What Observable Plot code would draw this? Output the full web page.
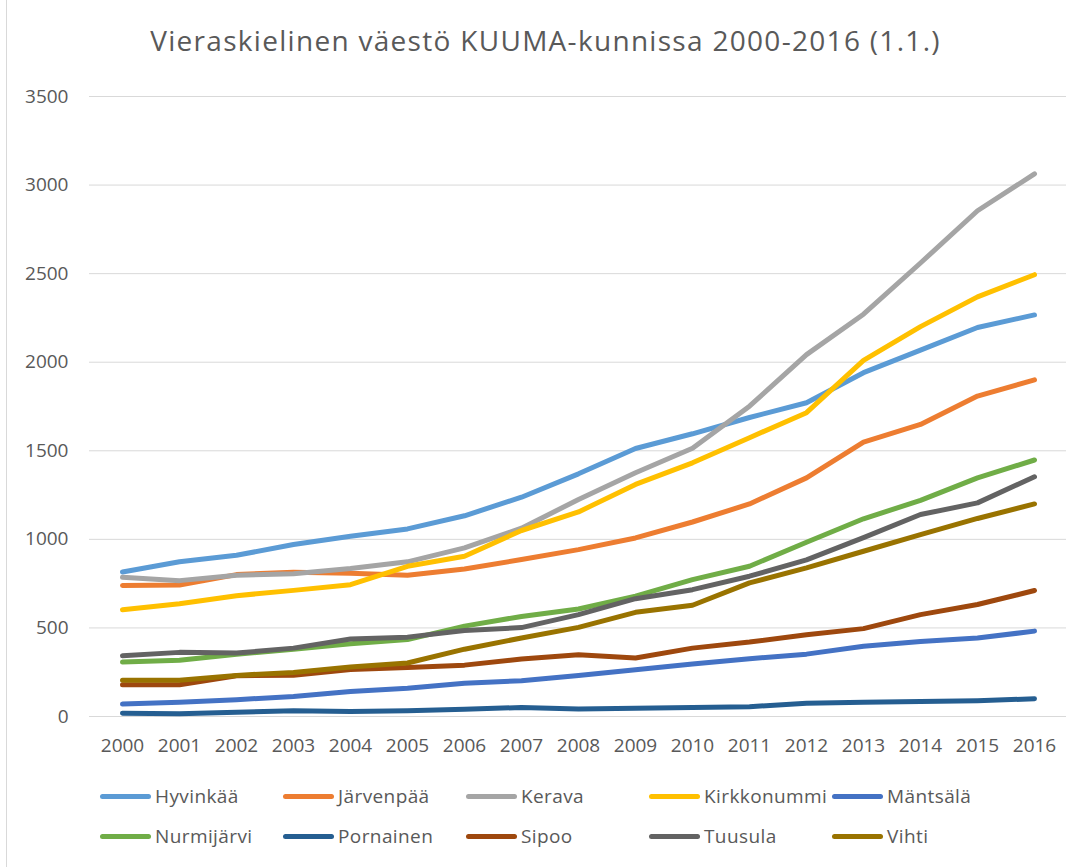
<!DOCTYPE html>
<html>
<head>
<meta charset="utf-8">
<script src="https://cdn.jsdelivr.net/npm/d3@7"></script>
<script src="https://cdn.jsdelivr.net/npm/@observablehq/plot@0.6"></script>
<style>
  html, body { margin: 0; padding: 0; background: #fff; }
  body { width: 1083px; height: 867px; position: relative; overflow: hidden; font-family: "Open Sans", sans-serif; color: #595959; }
  #border { position: absolute; left: 6px; top: 0; width: 1px; height: 867px; background: #d9d9d9; }
  #title { height: 80px; box-sizing: border-box; padding-top: 21px; text-align: center; font-size: 28px; letter-spacing: 1.3px; line-height: 38px; font-weight: 400; color: #595959; padding-left: 8px; }
  #chart { height: 690px; }
  #chart svg { display: block; }
  #legend { padding-top: 6px; }
  .row { display: flex; height: 40px; align-items: center; padding-left: 100px; }
  .item { width: 183px; display: flex; align-items: center; font-size: 19px; letter-spacing: 0.4px; }
  .sw { width: 51px; height: 5px; border-radius: 3px; margin-right: 4px; flex: none; }
</style>
</head>
<body>
<div id="border"></div>
<div id="title">Vieraskielinen väestö KUUMA-kunnissa 2000-2016 (1.1.)</div>
<div id="chart"></div>
<div id="legend"></div>
<script>
const years = [2000, 2001, 2002, 2003, 2004, 2005, 2006, 2007, 2008, 2009, 2010, 2011, 2012, 2013, 2014, 2015, 2016];
const yTicks = [0, 500, 1000, 1500, 2000, 2500, 3000, 3500];

const names = ["Hyvinkää", "Järvenpää", "Kerava", "Kirkkonummi", "Mäntsälä", "Nurmijärvi", "Pornainen", "Sipoo", "Tuusula", "Vihti"];
const colors = ["#5B9BD5", "#ED7D31", "#A5A5A5", "#FFC000", "#4472C4", "#70AD47", "#255E91", "#9E480E", "#636363", "#997300"];

const hyvinkaa    = [816, 874, 910, 971, 1017, 1059, 1133, 1238, 1370, 1513, 1596, 1688, 1771, 1941, 2068, 2196, 2267];
const jarvenpaa   = [740, 742, 801, 815, 809, 798, 833, 886, 942, 1008, 1098, 1200, 1347, 1549, 1649, 1809, 1900];
const kerava      = [786, 767, 797, 806, 835, 873, 952, 1063, 1225, 1376, 1514, 1752, 2043, 2271, 2560, 2855, 3063];
const kirkkonummi = [603, 637, 682, 712, 744, 848, 905, 1050, 1155, 1310, 1432, 1574, 1715, 2010, 2201, 2369, 2494];
const mantsala    = [70, 81, 95, 113, 141, 160, 188, 202, 232, 264, 296, 326, 352, 396, 424, 443, 482];
const nurmijarvi  = [307, 317, 352, 380, 411, 434, 510, 565, 607, 679, 773, 848, 984, 1116, 1220, 1347, 1448];
const pornainen   = [19, 15, 24, 32, 28, 32, 41, 51, 43, 47, 51, 55, 75, 81, 85, 89, 100];
const sipoo       = [179, 179, 230, 233, 265, 277, 290, 325, 349, 330, 386, 420, 462, 496, 575, 632, 711];
const tuusula     = [343, 362, 358, 386, 438, 448, 486, 502, 575, 665, 716, 792, 884, 1010, 1140, 1206, 1353];
const vihti       = [204, 204, 232, 249, 279, 302, 380, 443, 503, 588, 628, 754, 839, 933, 1027, 1118, 1200];

const series = [hyvinkaa, jarvenpaa, kerava, kirkkonummi, mantsala, nurmijarvi, pornainen, sipoo, tuusula, vihti];

const data = [];
series.forEach((vals, i) => {
  vals.forEach((v, j) => data.push({name: names[i], year: years[j], value: v}));
});

const chart = Plot.plot({
  width: 1083,
  height: 690,
  marginLeft: 89,
  marginRight: 17,
  marginTop: 16,
  marginBottom: 54,
  style: {fontFamily: "Open Sans, sans-serif", fontSize: "19px", color: "#595959", background: "transparent"},
  x: {type: "point", domain: years, padding: 0.5, label: null},
  y: {domain: [0, 3500], label: null},
  color: {domain: names, range: colors},
  marks: [
    Plot.gridY(yTicks, {stroke: "#d9d9d9", strokeOpacity: 1, strokeWidth: 1}),
    Plot.axisY({ticks: yTicks, tickSize: 0, tickPadding: 21, tickFormat: d => String(d), label: null}),
    Plot.axisX({tickSize: 0, tickPadding: 22, tickFormat: d => String(d), label: null}),
    Plot.line(data, {x: "year", y: "value", z: "name", stroke: "name", strokeWidth: 5, strokeLinecap: "round", strokeLinejoin: "round"})
  ]
});
document.getElementById("chart").appendChild(chart);

const legend = document.getElementById("legend");
for (let r = 0; r < 2; r++) {
  const row = document.createElement("div");
  row.className = "row";
  for (let c = 0; c < 5; c++) {
    const i = r * 5 + c;
    const item = document.createElement("div");
    item.className = "item";
    const sw = document.createElement("span");
    sw.className = "sw";
    sw.style.background = colors[i];
    const t = document.createElement("span");
    t.textContent = names[i];
    item.appendChild(sw);
    item.appendChild(t);
    row.appendChild(item);
  }
  legend.appendChild(row);
}
</script>
</body>
</html>
